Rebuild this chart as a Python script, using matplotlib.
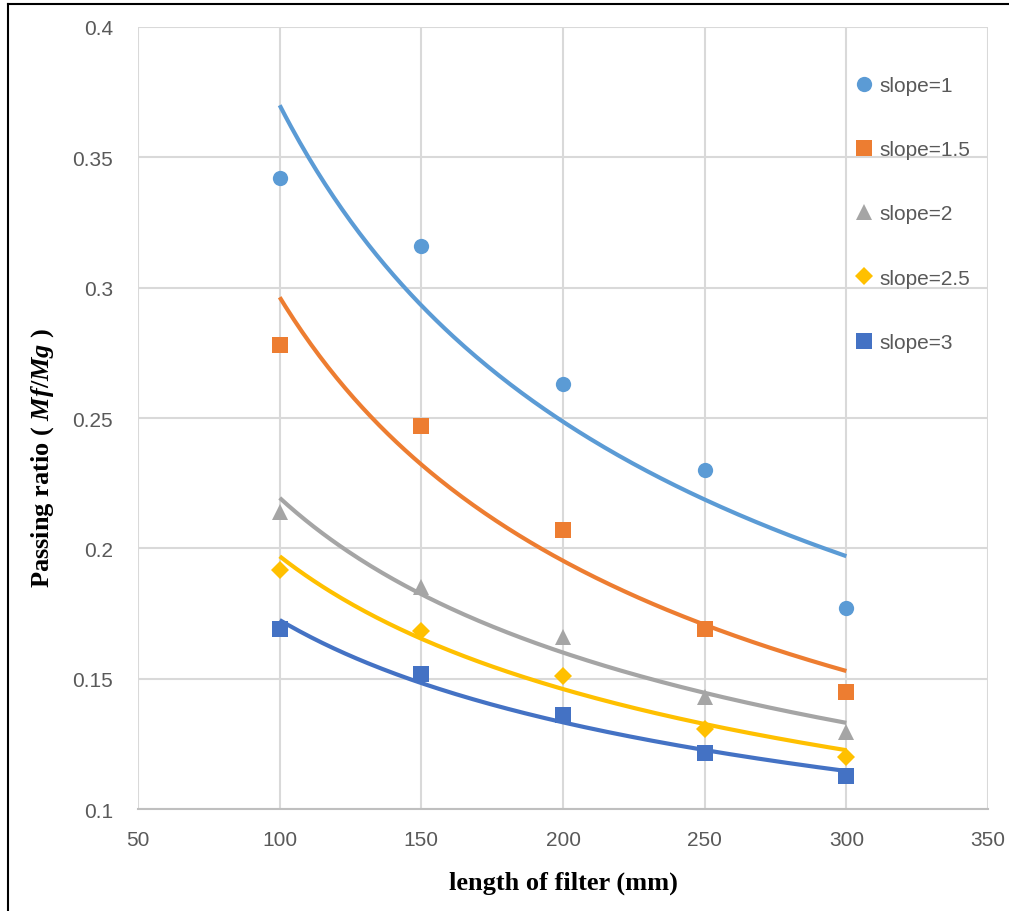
import matplotlib
matplotlib.use("Agg")

import matplotlib.pyplot as plt
import numpy as np
from matplotlib.lines import Line2D
from matplotlib.ticker import FuncFormatter

# Filter length (mm) and measured passing ratio for each slope
lengths = [100, 150, 200, 250, 300]
labels = ["slope=1", "slope=1.5", "slope=2", "slope=2.5", "slope=3"]
ratio_s1 = [0.342, 0.316, 0.263, 0.230, 0.177]
ratio_s15 = [0.278, 0.247, 0.207, 0.169, 0.145]
ratio_s2 = [0.214, 0.185, 0.166, 0.143, 0.1295]
ratio_s25 = [0.1917, 0.1683, 0.151, 0.1307, 0.120]
ratio_s3 = [0.169, 0.1518, 0.136, 0.1215, 0.1127]

# Power trendline coefficients  y = a * x^b
trend_a = [5.195, 4.74, 1.783, 1.438, 0.958]
trend_b = [-0.5737, -0.602, -0.455, -0.4317, -0.3723]

series = [ratio_s1, ratio_s15, ratio_s2, ratio_s25, ratio_s3]
colors = ["#5B9BD5", "#ED7D31", "#A5A5A5", "#FFC000", "#4472C4"]
markers = ["o", "s", "^", "D", "s"]
msizes = [11, 11.5, 11.5, 9, 11.5]

plt.rcParams["mathtext.fontset"] = "custom"
plt.rcParams["mathtext.it"] = "Liberation Serif:bold:italic"
plt.rcParams["mathtext.rm"] = "Liberation Serif:bold"

fig = plt.figure(figsize=(10.09, 9.12), dpi=100)
ax = fig.add_axes([0.1368, 0.1118, 0.9792 - 0.1368, 0.9693 - 0.1118])

xs = np.linspace(min(lengths), max(lengths), 200)
handles = []
for vals, a, b, c, m, ms, lab in zip(series, trend_a, trend_b, colors,
                                      markers, msizes, labels):
    ax.plot(xs, a * xs ** b, color=c, linewidth=3, zorder=2,
            solid_capstyle="butt")
    h, = ax.plot(lengths, vals, linestyle="none", marker=m, markersize=ms,
                 color=c, markeredgewidth=0, zorder=3, label=lab)
    handles.append(h)

ax.set_xlim(50, 350)
ax.set_ylim(0.1, 0.4)
ax.set_xticks([50, 100, 150, 200, 250, 300, 350])
ax.set_yticks([0.1, 0.15, 0.2, 0.25, 0.3, 0.35, 0.4])
ax.yaxis.set_major_formatter(FuncFormatter(lambda v, p: f"{v:g}"))
ax.grid(True, color="#D9D9D9", linewidth=1.5, zorder=0)
ax.set_axisbelow(True)
for side in ["top", "right", "left"]:
    ax.spines[side].set_visible(False)
ax.spines["bottom"].set_color("#BFBFBF")
ax.spines["bottom"].set_linewidth(1.5)
ax.tick_params(axis="both", length=0, labelsize=15, labelcolor="#595959")
ax.tick_params(axis="y", pad=18)
ax.tick_params(axis="x", pad=15)
for t in ax.get_xticklabels() + ax.get_yticklabels():
    t.set_fontfamily("Liberation Sans")

ax.set_xlabel("length of filter (mm)", fontfamily="Liberation Serif",
              fontweight="bold", fontsize=19)
ax.set_ylabel("Passing ratio ( $Mf/Mg$ )", fontfamily="Liberation Serif",
              fontweight="bold", fontsize=19)
ax.xaxis.set_label_coords(0.5, -0.079)
ax.yaxis.set_label_coords(-0.096, 0.45)

leg = ax.legend(handles=handles, loc="upper left",
                bbox_to_anchor=(0.834, 0.948), frameon=False,
                prop={"family": "Liberation Sans", "size": 15},
                labelcolor="#595959", labelspacing=2.17,
                handlelength=0.8, handletextpad=0.35, borderaxespad=0)

# Outline on the left and top edge of the figure
fig.add_artist(Line2D([7.5 / 1009, 7.5 / 1009], [0, 1 - 5 / 912],
                      transform=fig.transFigure, color="black", linewidth=1.5))
fig.add_artist(Line2D([7.5 / 1009, 1], [1 - 5 / 912, 1 - 5 / 912],
                      transform=fig.transFigure, color="black", linewidth=1.5))

fig.savefig("out.png", dpi=100)
